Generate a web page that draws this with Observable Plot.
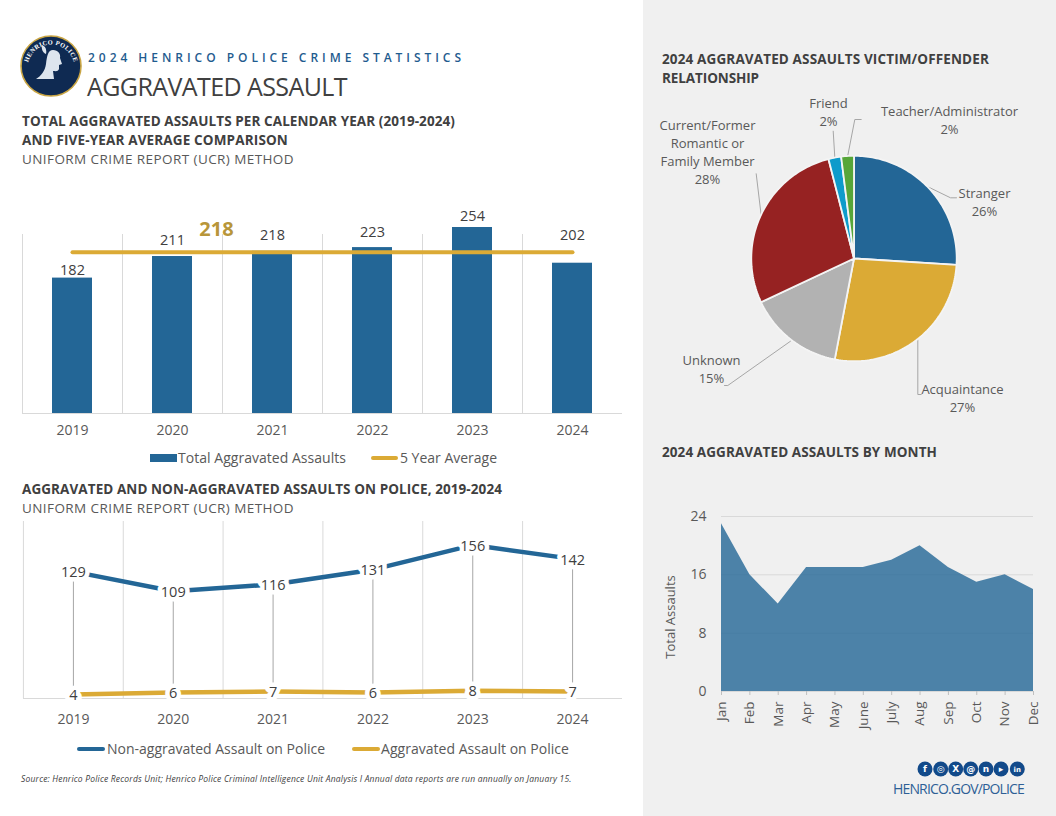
<!DOCTYPE html>
<html>
<head>
<meta charset="utf-8">
<script src="https://cdn.jsdelivr.net/npm/d3@7"></script>
<script src="https://cdn.jsdelivr.net/npm/@observablehq/plot@0.6"></script>
<style>
html,body{margin:0;padding:0;background:#fff;}
body{width:1056px;height:816px;position:relative;overflow:hidden;font-family:"Open Sans",sans-serif;}
#panel{position:absolute;left:643px;top:0;width:413px;height:816px;background:#f0f0f0;}
.t{position:absolute;white-space:nowrap;line-height:1;transform:translateY(-50%);}
.p{position:absolute;}
.p svg{display:block;}
.sw{position:absolute;}
</style>
</head>
<body>
<div id="panel"></div>
<script>
const FONT = '"Open Sans", sans-serif';
const BLUE = "#236696", GOLD = "#DBAA35", GRID = "#D9D9D9", INK = "#595959";

// ---- data ----
const years = ["2019","2020","2021","2022","2023","2024"];
const totalAssaults = [182,211,218,223,254,202];
const fiveYearAverage = [218,218,218,218,218,218];
const nonAggravated = [129,109,116,131,156,142];
const aggravated = [4,6,7,6,8,7];
const relationships = ["Stranger","Acquaintance","Unknown","Current/Former Romantic or Family Member","Friend","Teacher/Administrator"];
const relationshipShares = [26,27,15,28,2,2];
const relationshipColors = [BLUE,GOLD,"#B2B2B2","#962222","#0E9BCB","#57A639"];
const months = ["Jan","Feb","Mar","Apr","May","June","July","Aug","Sep","Oct","Nov","Dec"];
const monthlyAssaults = [23,16,12,17,17,17,18,20,17,15,16,14];

// ---- helpers ----
function put(el,x,y){const w=document.createElement("div");w.className="p";w.style.left=x+"px";w.style.top=y+"px";w.appendChild(el);document.body.appendChild(w);}
function txt(s,x,yc,size,opts={}){
  const d=document.createElement("div");d.className="t";d.textContent=s;
  d.style.left=x+"px";d.style.top=yc+"px";d.style.fontSize=size+"px";
  d.style.color=opts.color||"#404040";d.style.fontWeight=opts.weight||400;
  if(opts.italic)d.style.fontStyle="italic";
  document.body.appendChild(d);
  if(opts.w){const w=d.getBoundingClientRect().width;d.style.letterSpacing=((opts.w-w)/s.length)+"px";}
  return d;
}
function swatch(x,y,w,h,color,round){
  const d=document.createElement("div");d.className="sw";
  Object.assign(d.style,{left:x+"px",top:y+"px",width:w+"px",height:h+"px",background:color,borderRadius:round?"3px":"0"});
  document.body.appendChild(d);
}
const base={style:{background:"transparent",fontFamily:FONT,overflow:"visible"}};

// ---- header text ----
txt("2024 HENRICO POLICE CRIME STATISTICS",88,57.7,12,{color:"#1F5C8F",weight:600,w:377});
txt("AGGRAVATED ASSAULT",87,85.5,25,{color:"#404040",w:260});
txt("TOTAL AGGRAVATED ASSAULTS PER CALENDAR YEAR (2019-2024)",22,122,13.5,{weight:700,w:433});
txt("AND FIVE-YEAR AVERAGE COMPARISON",22,141,13.5,{weight:700,w:266});
txt("UNIFORM CRIME REPORT (UCR) METHOD",22,160,13.5,{color:INK,w:272});
txt("AGGRAVATED AND NON-AGGRAVATED ASSAULTS ON POLICE, 2019-2024",22,490,13.5,{weight:700,w:480});
txt("UNIFORM CRIME REPORT (UCR) METHOD",22,509,13.5,{color:INK,w:272});
txt("2024 AGGRAVATED ASSAULTS VICTIM/OFFENDER",662,60,13.5,{weight:700,w:327});
txt("RELATIONSHIP",662,79,13.5,{weight:700,w:97});
txt("2024 AGGRAVATED ASSAULTS BY MONTH",662,453,13.5,{weight:700,w:275});
txt("Source: Henrico Police Records Unit; Henrico Police Criminal Intelligence Unit Analysis  I  Annual data reports are run annually on January 15.",21,779,8.5,{color:"#404040",italic:true,w:551});
txt("HENRICO.GOV/POLICE",893,789,14,{color:"#2E5F96",w:131});

// ---- logo & social (decorative) ----
const logo=document.createElement("div");
logo.innerHTML=`<svg width="62" height="62" viewBox="0 0 62 62">
<defs><path id="arc" d="M7.5 33 A23.5 23.5 0 0 1 54.5 33"/></defs>
<circle cx="31" cy="31" r="30" fill="#0F2A52" stroke="#C9A544" stroke-width="1.6"/>
<path d="M33 15c5 0 8 4 7 8l2 6-3 1 0 4c-1 3-4 2-6 2l1 8H16c5-3 9-8 10-15 1-8 2-14 7-14z" fill="#DDE5EE"/>
<path d="M22 10c3 1 5 4 4 9-3-1-5-5-4-9z" fill="#DDE5EE"/>
<text font-size="6.4" font-weight="700" fill="#fff" font-family="Liberation Serif,serif" letter-spacing=".4"><textPath href="#arc" startOffset="50%" text-anchor="middle">HENRICO POLICE</textPath></text>
</svg>`;
put(logo,20,35);
const glyphs=["f","◎","X","@","n","▸","in"];
const soc=document.createElement("div");
soc.innerHTML=`<svg width="110" height="18" viewBox="0 0 110 18">`+
 [0,15.7,30.7,45.7,61,76,92.3].map((x,i)=>`<circle cx="${x+8}" cy="9" r="7.5" fill="#124A8A"/><text x="${x+8}" y="12" text-anchor="middle" font-size="${i==6?7:9}" font-weight="700" fill="#fff" font-family="DejaVu Sans,sans-serif">${glyphs[i]}</text>`).join("")+`</svg>`;
put(soc,917,760);

// ---- bar chart ----
const barRows=years.map((y,i)=>({year:y,total:totalAssaults[i],avg:fiveYearAverage[i]}));
const barLabelDy=[-8,-16,-16,-15,-11,-28];   // label nudge above each bar top
const bar=Plot.plot({...base,width:640,height:235,marginLeft:22,marginRight:18,marginTop:22,marginBottom:27,
  x:{type:"band",domain:years,paddingInner:.6,paddingOuter:.3,round:false,axis:null},
  y:{domain:[0,250],clamp:true,axis:null},
  marks:[
    Plot.ruleX(years,{x:d=>d,dx:-50,y1:0,y2:250,stroke:GRID,insetBottom:-7}),
    Plot.barY(barRows,{x:"year",y:"total",fill:BLUE}),
    Plot.ruleY([0],{stroke:GRID}),
    Plot.line(barRows,{x:"year",y:"avg",dy:1,stroke:GOLD,strokeWidth:4,strokeLinecap:"round"}),
    ...barRows.map((d,i)=>Plot.text([d],{x:"year",y:"total",text:d=>String(d.total),dy:barLabelDy[i],fontSize:14.5,fill:"#404040"})),
    Plot.text([barRows[2]],{x:"year",y:"avg",text:d=>String(d.avg),dx:-56,dy:-22,fontSize:20,fontWeight:700,fill:"#B8963A"}),
    Plot.axisX({tickSize:0,tickPadding:12,fontSize:14,fill:INK,label:null})
  ]});
put(bar,0,205);
swatch(150,454,27,8,BLUE);
txt("Total Aggravated Assaults",178,458,14,{color:INK,w:168});
swatch(371,456,27,4,GOLD,true);
txt("5 Year Average",400,458,14,{color:INK,w:97});

// ---- police lines ----
const lineRows=years.map((y,i)=>({year:y,non:nonAggravated[i],agg:aggravated[i]}));
const line=Plot.plot({...base,width:640,height:230,marginLeft:23,marginRight:18,marginTop:1,marginBottom:52,
  x:{type:"band",domain:years,padding:0,round:false,axis:null},
  y:{domain:[0,180],axis:null},
  marks:[
    Plot.ruleX(years,{x:d=>d,dx:-50,y1:0,y2:180,stroke:GRID}),
    Plot.ruleY([0],{stroke:GRID}),
    Plot.ruleX(lineRows,{x:"year",y1:"agg",y2:"non",stroke:"#A6A6A6"}),
    Plot.line(lineRows,{x:"year",y:"non",stroke:BLUE,strokeWidth:4.5}),
    Plot.line(lineRows,{x:"year",y:"agg",stroke:GOLD,strokeWidth:4.5}),
    Plot.text(lineRows,{x:"year",y:"non",text:d=>String(d.non),dy:1,fontSize:14.5,fill:"#404040",stroke:"#fff",strokeWidth:9}),
    Plot.text(lineRows,{x:"year",y:"agg",text:d=>String(d.agg),dy:1,fontSize:14.5,fill:"#404040",stroke:"#fff",strokeWidth:9}),
    Plot.axisX({tickSize:0,tickPadding:16,fontSize:14,fill:INK,label:null})
  ]});
put(line,0,520);
swatch(77,747,28,4,BLUE,true);
txt("Non-aggravated Assault on Police",107,749,14,{color:INK,w:218});
swatch(352,747,28,4,GOLD,true);
txt("Aggravated Assault on Police",381,749,14,{color:INK,w:188});

// ---- pie ----
const R=102.7, CX=853.5, CY=258;
let acc=0;
const slicePts=[];
relationships.forEach((name,i)=>{
  const a0=acc/100*2*Math.PI; acc+=relationshipShares[i]; const a1=acc/100*2*Math.PI;
  const n=Math.max(2,Math.ceil((a1-a0)/0.02));
  slicePts.push({name,x:0,y:0});
  for(let k=0;k<=n;k++){const a=a0+(a1-a0)*k/n;slicePts.push({name,x:R*Math.sin(a),y:-R*Math.cos(a)});}
  slicePts.push({name,x:0,y:0});
});
const pieLabels=[
 ["Stranger\n26%",984,201],["Acquaintance\n27%",962,397],["Unknown\n15%",711,368],
 ["Current/Former\nRomantic or\nFamily Member\n28%",707,151],["Friend\n2%",828,111],["Teacher/Administrator\n2%",949,118.5]
].map(([text,x,y])=>({text,x:x-CX,y:y-CY}));
const leaders=[
 [[928.3,186.7],[950,197.3],[956,197.3]],
 [[917.3,339.3],[917.3,394],[920.7,394]],
 [[790,340.7],[727.3,385],[724,385]],
 [[760.7,215],[755.7,173.3]],
 [[834.3,156.7],[832.7,130.7]],
 [[847.3,155],[854.3,119],[860.7,119]]
].flatMap((pts,k)=>pts.map(([x,y])=>({k,x:x-CX,y:y-CY})));
const pie=Plot.plot({...base,width:413,height:330,margin:0,
  x:{domain:[643-CX,1056-CX],range:[0,413],axis:null},
  y:{domain:[420-CY,90-CY],range:[330,0],axis:null},
  color:{domain:relationships,range:relationshipColors},
  marks:[
    Plot.line(leaders,{x:"x",y:"y",z:"k",stroke:"#A6A6A6",strokeWidth:1}),
    Plot.line(slicePts,{x:"x",y:"y",z:"name",fill:"name",stroke:"#f4f4f4",strokeWidth:1.8,strokeLinejoin:"miter"}),
    Plot.text(pieLabels,{x:"x",y:"y",text:"text",fontSize:13,fill:INK,lineHeight:1.38})
  ]});
put(pie,643,90);

// ---- area ----
const monthRows=months.map((m,i)=>({month:m,n:monthlyAssaults[i]}));
const area=Plot.plot({...base,width:413,height:250,marginLeft:78,marginRight:23,marginTop:16,marginBottom:59,
  x:{type:"point",domain:months,padding:0,round:false,axis:null},
  y:{domain:[0,24],axis:null},
  marks:[
    Plot.gridY([8,16,24],{stroke:GRID,strokeOpacity:1}),
    Plot.areaY(monthRows,{x:"month",y:"n",fill:BLUE,fillOpacity:.8}),
    Plot.ruleY([0],{stroke:GRID}),
    Plot.axisX({tickSize:4,stroke:"#BFBFBF",tickPadding:6,tickRotate:-90,fontSize:13.5,fill:INK,label:null}),
    Plot.axisY({ticks:[0,8,16,24],tickSize:0,tickPadding:15,fontSize:14,fill:INK,label:null}),
    Plot.text(["Total Assaults"],{frameAnchor:"left",textAnchor:"middle",rotate:-90,dx:-51,dy:13,fontSize:13,fill:INK})
  ]});
put(area,643,500);
</script>
</body>
</html>
